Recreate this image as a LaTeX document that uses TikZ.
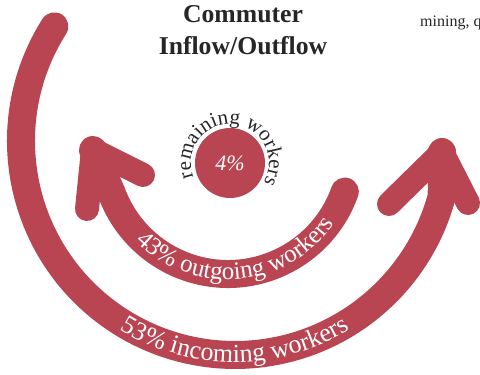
\documentclass[tikz,border=0pt]{standalone}
\usepackage{fontspec}
\setmainfont{Liberation Serif}
\usetikzlibrary{decorations.text}

\definecolor{flowred}{RGB}{185,69,82}
\tikzstyle{band} = [draw=flowred, line width=28pt, line cap=round, line join=round]
\tikzstyle{barb} = [draw=flowred, line width=24pt, line cap=round, line join=round]
\tikzstyle{heading} = [font=\fontsize{25.7}{32}\selectfont\bfseries, text=black!85, inner sep=0pt, anchor=base]

\begin{document}
\begin{tikzpicture}[x=1pt, y=1pt]
\useasboundingbox (0,0) rectangle (480,375);
\clip (0,0) rectangle (480,375);

\coordinate (outc) at (235,234);
\coordinate (inc) at (228,225);
\coordinate (outtip) at (442,223);
\coordinate (outl) at (389,171);
\coordinate (outr) at (468,172);
\coordinate (intip) at (93,225);
\coordinate (inl) at (87,166);
\coordinate (inr) at (143,200);

% incoming workers
\draw[band] (outc) ++(147.6:214) arc[start angle=147.6, end angle=345, radius=214] -- (outtip);
\draw[barb] (outl) -- (outtip) -- (outr);

% outgoing workers
\draw[band] (inc) ++(-19.6:124) arc[start angle=-19.6, end angle=-160, radius=124] -- (intip);
\draw[barb] (inl) -- (intip) -- (inr);

\node[circle, fill=flowred, minimum size=70pt, inner sep=0pt, text=white,
  font=\fontsize{22}{22}\selectfont\itshape] (rem) at (230,212) {4\%};

\path[decorate, decoration={text along path, text align=center, text color=black!85,
  text={|\fontsize{21}{21}\selectfont|remaining workers}}]
  (rem.center) ++(198:39) arc[start angle=198, end angle=-28, radius=39];
\path[decorate, decoration={text along path, text align=center, text color=white,
  text={|\fontsize{25}{25}\selectfont|43{\%} outgoing workers}}]
  (inc) ++(-165:129.5) arc[start angle=-165, end angle=-5, radius=129.5];
\path[decorate, decoration={text along path, text align=center, text color=white,
  text={|\fontsize{26}{26}\selectfont|53{\%} incoming workers}}]
  (outc) ++(-170:221) arc[start angle=-170, end angle=-10, radius=221];

\node[heading] (title1) at (243,352) {Commuter};
\node[heading] (title2) at (243,320) {Inflow/Outflow};
\node[font=\fontsize{16}{16}\selectfont, text=black!85, inner sep=0pt, anchor=base west] (sector) at (420,348) {mining, q};
\end{tikzpicture}
\end{document}
